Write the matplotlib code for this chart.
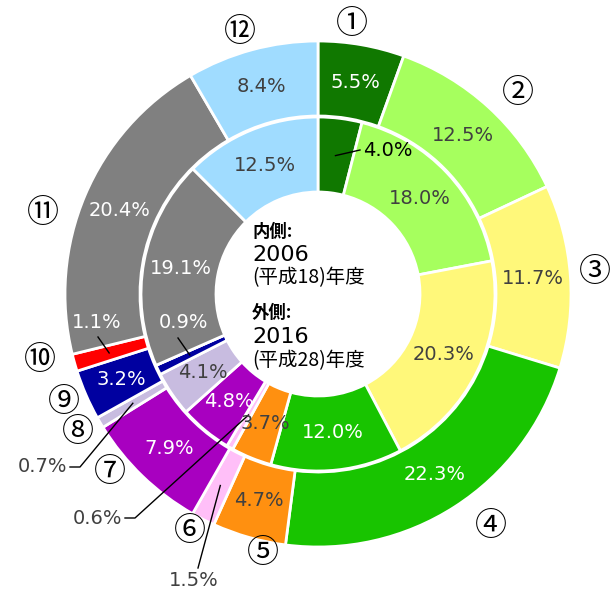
import numpy as np
import matplotlib.pyplot as plt

# 2006 (inner ring) vs 2016 (outer ring), 12 categories
nums = ['①', '②', '③', '④', '⑤', '⑥', '⑦', '⑧', '⑨', '⑩', '⑪', '⑫']
colors = ['#107800', '#a6ff5e', '#fff87a', '#18c400', '#ff9010', '#ffbff8',
          '#a800c0', '#c8bce0', '#0000a0', '#ff0000', '#808080', '#a0dcff']
outer_2016 = [5.5, 12.5, 11.7, 22.3, 4.7, 1.5, 7.9, 0.7, 3.2, 1.1, 20.4, 8.4]
inner_2006 = [4.0, 18.0, 20.3, 12.0, 3.7, 0.6, 4.8, 4.1, 0.9, 0.0, 19.1, 12.5]

# text colours on each wedge
dark_txt = '#404040'
outer_tc = ['white', dark_txt, dark_txt, 'white', dark_txt, dark_txt,
            'white', dark_txt, 'white', 'white', 'white', dark_txt]
inner_tc = [dark_txt, dark_txt, dark_txt, 'white', dark_txt, dark_txt,
            'white', dark_txt, 'white', 'white', 'white', dark_txt]

# circled number positions (pixels)
num_pos = [(352, 24), (518, 93), (595, 272), (491, 526), (263, 553), (190, 531),
           (110, 472), (78, 432), (64, 402), (40, 360), (43, 213), (240, 32)]

W, H = 611, 594
cx, cy = 318, 294
R_out, R_mid, R_hole = 253, 177, 102

fig = plt.figure(figsize=(W / 100, H / 100), dpi=100)
ax = fig.add_axes([0, 0, 1, 1])

wp = {'edgecolor': 'white', 'linewidth': 2}
w_out, _ = ax.pie(outer_2016, colors=colors, radius=R_out, center=(cx, cy),
                  startangle=-90, counterclock=True,
                  wedgeprops=dict(wp, width=R_out - R_mid - 1))
w_in, _ = ax.pie(inner_2006, colors=colors, radius=R_mid, center=(cx, cy),
                 startangle=-90, counterclock=True,
                 wedgeprops=dict(wp, width=R_mid - R_hole))

ax.set_xlim(0, W)
ax.set_ylim(H, 0)
ax.set_aspect('equal')
ax.axis('off')


def point(w, r):
    a = np.deg2rad((w.theta1 + w.theta2) / 2)
    return cx + r * np.cos(a), cy + r * np.sin(a)


pfont = dict(fontsize=14, family='DejaVu Sans')
r_o = (R_out + R_mid) / 2
r_i = (R_mid + R_hole) / 2

# outer labels
special_out = {5, 7, 9}
for i, (w, v) in enumerate(zip(w_out, outer_2016)):
    if i in special_out:
        continue
    x, y = point(w, r_o)
    ax.text(x, y, f'{v}%', color=outer_tc[i], ha='center', va='center', **pfont)

# inner labels
special_in = {0, 5, 8, 9}
for i, (w, v) in enumerate(zip(w_in, inner_2006)):
    if i in special_in:
        continue
    x, y = point(w, r_i)
    ax.text(x, y, f'{v}%', color=inner_tc[i], ha='center', va='center', **pfont)

lk = dict(color='black', lw=1)

# inner ① 4.0%
x, y = point(w_in[0], r_i)
ax.plot([x, 360], [y, 150], **lk)
ax.text(363, 151, f'{inner_2006[0]}%', color='black', ha='left', va='center', **pfont)

# inner ⑥ 0.6%
x, y = point(w_in[5], r_i)
ax.plot([x, 135, 125], [y, 518, 518], **lk)
ax.text(122, 519, f'{inner_2006[5]}%', color=dark_txt, ha='right', va='center', **pfont)

# inner ⑨ 0.9%
x, y = point(w_in[8], 142)
ax.plot([x, 178], [y, 338], **lk)
ax.text(183, 322, f'{inner_2006[8]}%', color='white', ha='center', va='center', **pfont)

# outer ⑥ 1.5%
x, y = point(w_out[5], r_o)
ax.plot([x, 198], [y, 568], **lk)
ax.text(194, 581, f'{outer_2016[5]}%', color=dark_txt, ha='center', va='center', **pfont)

# outer ⑧ 0.7%
x, y = point(w_out[7], r_o)
ax.plot([x, 80, 70], [y, 467, 467], **lk)
ax.text(67, 467, f'{outer_2016[7]}%', color=dark_txt, ha='right', va='center', **pfont)

# outer ⑩ 1.1%
x, y = point(w_out[9], 217)
ax.plot([x, 98], [y, 337], **lk)
ax.text(97, 323, f'{outer_2016[9]}%', color='white', ha='center', va='center', **pfont)

# circled numbers
for n, (x, y) in zip(nums, num_pos):
    ax.text(x, y, n, ha='center', va='center', fontsize=23,
            family=['Noto Sans CJK JP', 'DejaVu Sans'], color='black')

# centre text
cfam = ['DejaVu Sans', 'Noto Sans CJK JP']
jfam = ['Noto Sans CJK JP', 'DejaVu Sans']
ax.text(252, 232, '内側:', ha='left', va='center', fontsize=12.5, fontweight='bold', family=jfam)
ax.text(252, 255, '2006', ha='left', va='center', fontsize=16, family=cfam)
ax.text(252, 278, '(平成18)年度', ha='left', va='center', fontsize=14, family=jfam)
ax.text(252, 313, '外側:', ha='left', va='center', fontsize=12.5, fontweight='bold', family=jfam)
ax.text(252, 337, '2016', ha='left', va='center', fontsize=16, family=cfam)
ax.text(252, 361, '(平成28)年度', ha='left', va='center', fontsize=14, family=jfam)

fig.savefig('out.png', dpi=100, facecolor='white')
